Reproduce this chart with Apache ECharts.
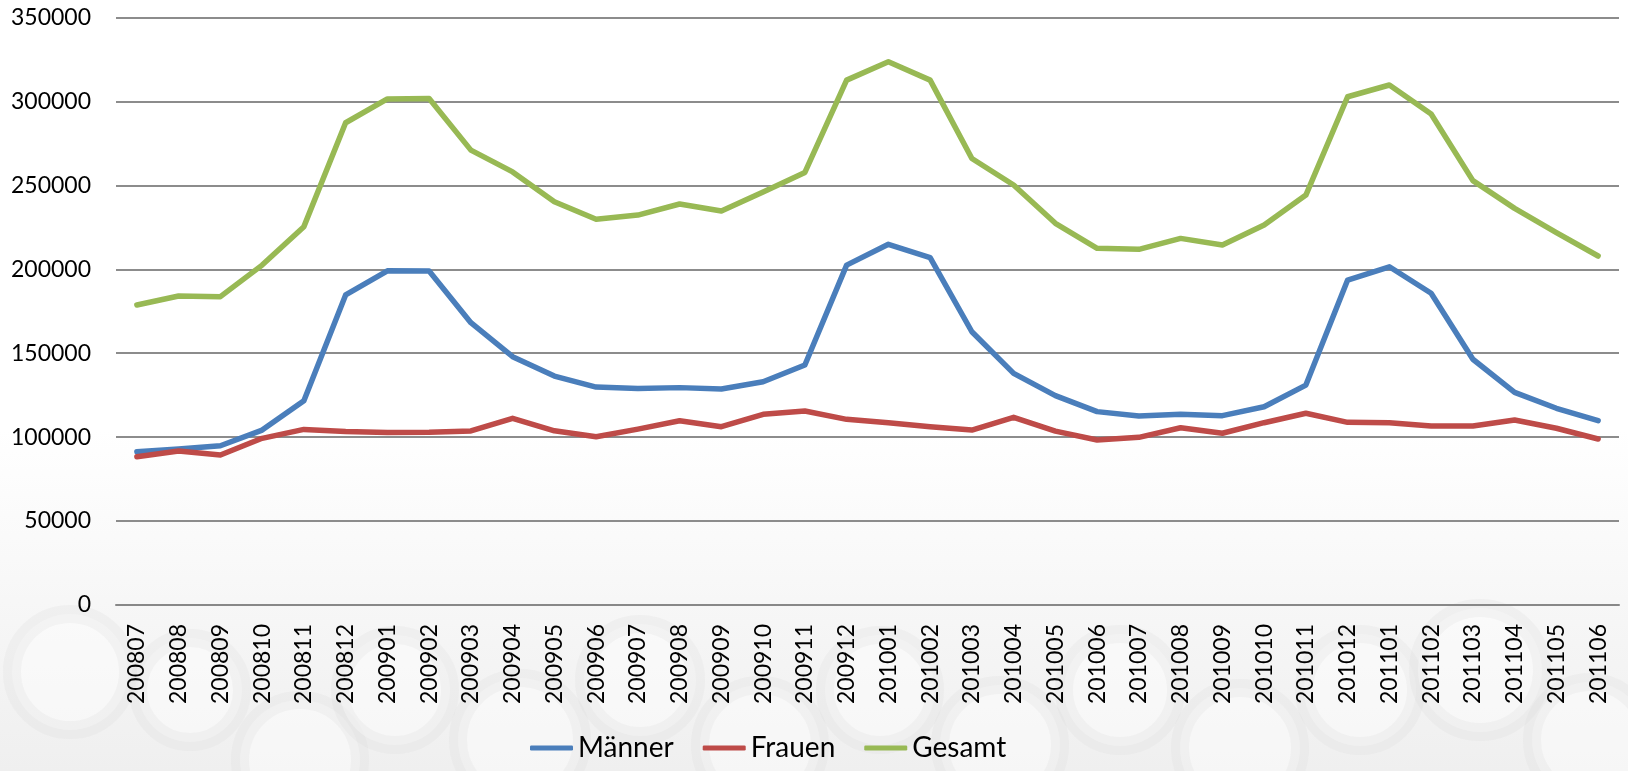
<!DOCTYPE html>
<html style="height: 100%">

<head>
    <meta charset="utf-8">
    <title>index</title>
    <style>
        html, body { margin: 0; padding: 0; }
        #container {
            width: 1628px;
            height: 771px;
        }
    </style>
</head>

<body>
    <div id="container"></div>
</body>
<script src="https://cdn.jsdelivr.net/npm/echarts@6/dist/echarts.min.js"></script>
<script type="text/javascript">
    // Monate (JJJJMM)
    var months = ['200807', '200808', '200809', '200810', '200811', '200812',
        '200901', '200902', '200903', '200904', '200905', '200906',
        '200907', '200908', '200909', '200910', '200911', '200912',
        '201001', '201002', '201003', '201004', '201005', '201006',
        '201007', '201008', '201009', '201010', '201011', '201012',
        '201101', '201102', '201103', '201104', '201105', '201106'];

    var maenner = [91300, 92900, 94900, 104200, 121700, 184700,
        199100, 199000, 168200, 147900, 136400, 129800,
        129000, 129500, 128700, 133000, 143000, 202500,
        214900, 207000, 162800, 138000, 124700, 115200,
        112600, 113600, 112800, 118100, 131000, 193600,
        201500, 185700, 146400, 126700, 117200, 109800];

    var frauen = [88300, 91700, 89400, 99300, 104600, 103300,
        102700, 102900, 103700, 111200, 103800, 100200,
        104800, 109800, 106200, 113600, 115600, 110600,
        108600, 106200, 104200, 111800, 103600, 98300,
        99900, 105600, 102300, 108600, 114200, 108800,
        108600, 106600, 106600, 110200, 105300, 98900];

    var gesamt = [178700, 184100, 183700, 202500, 225400, 287300,
        301500, 301700, 271000, 258000, 240200, 229800,
        232300, 238900, 234700, 246000, 257700, 312700,
        323600, 312700, 266000, 250200, 227400, 212500,
        211900, 218400, 214500, 226400, 244200, 302800,
        309800, 292500, 252800, 236300, 221800, 207900];

    var seriesNames = ['Männer', 'Frauen', 'Gesamt'];
    var colors = ['#4a7ebb', '#be4b48', '#98b954'];

    var dom = document.getElementById("container");
    var myChart = echarts.init(dom);

    // Hintergrund: grauer Verlauf unten mit dezentem Kreismuster
    var rings = [[70, 672, 58], [190, 690, 52], [300, 760, 60], [395, 690, 55], [520, 740, 62],
        [640, 680, 56], [760, 745, 60], [880, 690, 55], [1000, 745, 60], [1120, 690, 56],
        [1240, 748, 60], [1360, 690, 56], [1480, 670, 62], [1590, 740, 58]];
    var bg = [{
        type: 'rect',
        z: -10,
        silent: true,
        shape: { x: 0, y: 430, width: 1628, height: 341 },
        style: {
            fill: new echarts.graphic.LinearGradient(0, 0, 0, 1, [
                { offset: 0, color: '#ffffff' },
                { offset: 0.5, color: '#f7f7f7' },
                { offset: 1, color: '#efefef' }
            ])
        }
    }];
    rings.forEach(function (r) {
        bg.push({
            type: 'circle',
            z: -9,
            silent: true,
            shape: { cx: r[0], cy: r[1], r: r[2] },
            style: { fill: 'rgba(255,255,255,0.45)', stroke: 'rgba(215,215,215,0.2)', lineWidth: 18 }
        });
    });

    var option = {
        backgroundColor: '#ffffff',
        color: colors,
        animation: false,
        textStyle: { fontFamily: 'Lato' },
        graphic: bg,
        grid: {
            left: 116,
            right: 9,
            top: 17.5,
            bottom: 166,
            outerBoundsMode: 'none'
        },
        legend: {
            left: 530,
            top: 734,
            padding: 0,
            icon: 'roundRect',
            itemWidth: 43,
            itemHeight: 5,
            itemGap: 29,
            textStyle: { fontSize: 28, color: '#000', fontFamily: 'Lato' },
            data: seriesNames
        },
        xAxis: {
            type: 'category',
            data: months,
            boundaryGap: true,
            axisLine: { lineStyle: { color: '#888', width: 2 } },
            axisTick: { show: false },
            axisLabel: {
                rotate: 90,
                margin: 19,
                interval: 0,
                fontSize: 23,
                color: '#000',
                fontFamily: 'Lato'
            }
        },
        yAxis: {
            type: 'value',
            min: 0,
            max: 350000,
            interval: 50000,
            axisLine: { show: false },
            axisTick: { show: false },
            axisLabel: {
                margin: 25, fontSize: 23, color: '#000', fontFamily: 'Lato',
                formatter: function (v) { return String(v); }
            },
            splitLine: { lineStyle: { color: '#8c8c8c', width: 2 } }
        },
        series: [
            { name: seriesNames[0], type: 'line', data: maenner, symbol: 'none', lineStyle: { width: 5.5, cap: 'round', join: 'round' } },
            { name: seriesNames[1], type: 'line', data: frauen, symbol: 'none', lineStyle: { width: 5.5, cap: 'round', join: 'round' } },
            { name: seriesNames[2], type: 'line', data: gesamt, symbol: 'none', lineStyle: { width: 5.5, cap: 'round', join: 'round' } }
        ]
    };

    if (option && typeof option === "object") {
        myChart.setOption(option, true);
    }
</script>

</html>
